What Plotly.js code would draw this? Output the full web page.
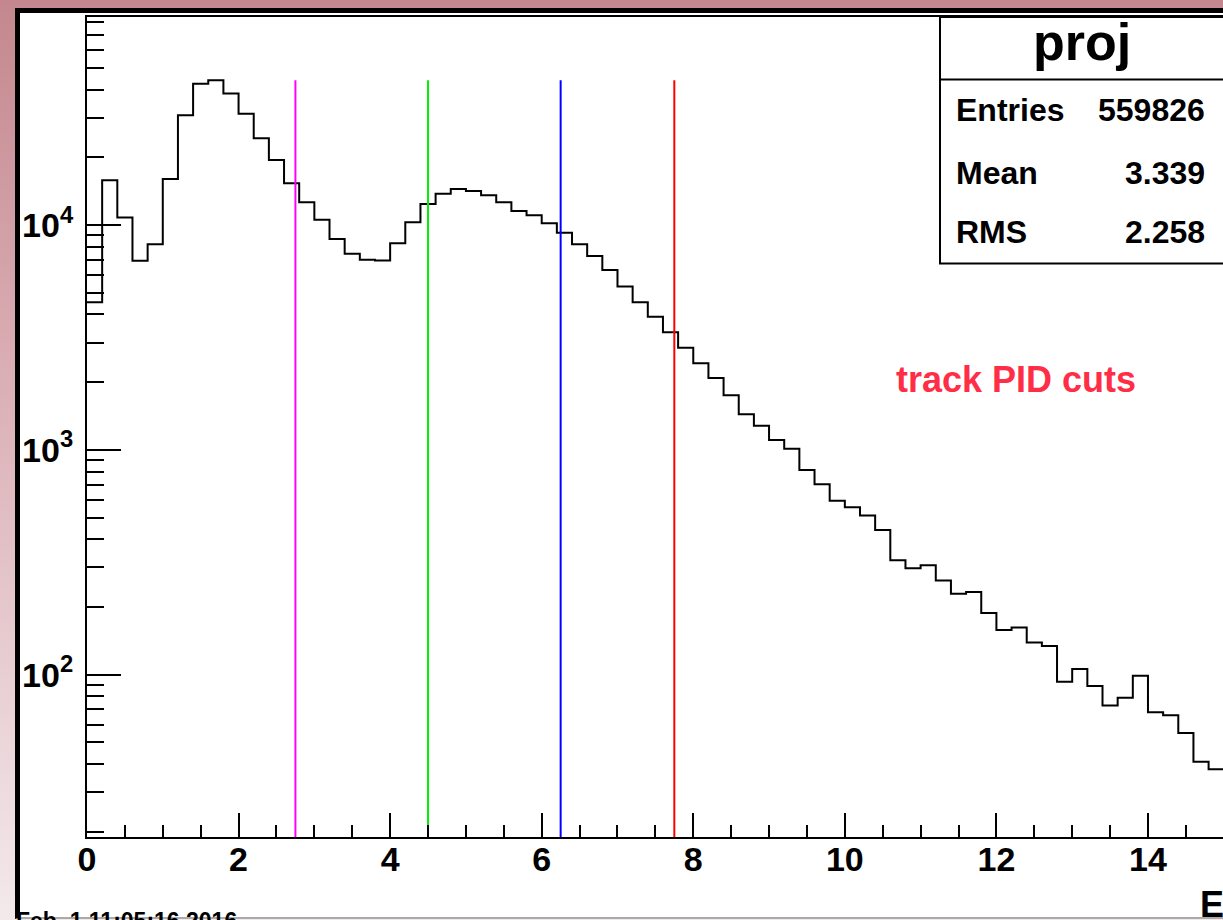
<!DOCTYPE html>
<html><head><meta charset="utf-8">
<script src="https://cdn.plot.ly/plotly-3.0.1.min.js"></script>
<style>
html,body{margin:0;padding:0;width:1223px;height:920px;overflow:hidden;background:linear-gradient(to bottom,#c4878f 0%,#dcb3b9 45%,#f3e9eb 100%);}
#pad{position:absolute;left:15px;top:8px;width:1220px;height:904px;background:#fff;border-left:5px solid #000;border-top:5px solid #000;border-bottom:2px solid #aaa;}
#chart{position:absolute;left:0;top:0;width:1223px;height:920px;}
</style></head>
<body>
<div id="pad"></div>
<div id="chart"></div>
<script>
// Histogram "proj": 75 bins of width 0.2 from 0 to 15
const binEdges = [0,0.2,0.4,0.6,0.8,1,1.2,1.4,1.6,1.8,2,2.2,2.4,2.6,2.8,3,3.2,3.4,3.6,3.8,
  4,4.2,4.4,4.6,4.8,5,5.2,5.4,5.6,5.8,6,6.2,6.4,6.6,6.8,7,7.2,7.4,7.6,7.8,
  8,8.2,8.4,8.6,8.8,9,9.2,9.4,9.6,9.8,10,10.2,10.4,10.6,10.8,11,11.2,11.4,11.6,11.8,
  12,12.2,12.4,12.6,12.8,13,13.2,13.4,13.6,13.8,14,14.2,14.4,14.6,14.8,15];
const counts = [4530,15800,10800,6930,8210,16000,30800,42500,44000,38400,
  31200,24300,19450,15330,12620,10560,8670,7450,7000,6950,
  8290,10280,12400,13780,14450,14160,13550,12620,11540,11040,
  10180,9240,8210,7280,6310,5320,4530,3910,3335,2846,
  2426,2086,1747,1439,1280,1106,1011,813,702,594,
  555,511,440,323,297,307,262,229,233,188,
  158,162,139,134,93,106,89,73,79,99,
  68,66,55,41,38];
const cutValues = [2.75, 4.5, 6.25, 7.75];
const cutColors = ['#ff00ff', '#00ee00', '#0000ff', '#ff0000'];
const xTickVals = [0,2,4,6,8,10,12,14];
const xTickText = ['0','2','4','6','8','10','12','14'];
const yTickVals = [100,1000,10000];
const yTickText = ['10<sup>2</sup>','10<sup>3</sup>','10<sup>4</sup>'];
const statsTitle = 'proj';
const statsNames = ['Entries','Mean','RMS'];
const statsValues = ['559826','3.339','2.258'];
const noteText = 'track PID cuts';
const dateText = 'Feb  1 11:05:16 2016';
const xTitle = 'E';

// minor tick positions
const xMinor = [];
for (let v = 0.5; v < 15; v += 0.5) { if (Math.abs(v/2 - Math.round(v/2)) > 1e-6) xMinor.push(+v.toFixed(2)); }
const yMinor = [];
for (let e = 1; e <= 4; e++) for (let m = 2; m <= 9; m++) yMinor.push(m * Math.pow(10, e));

const W = 1223, H = 920, L = 87, T = 17, B = 837, R = 1223;
const px = x => (x - L) / (R - L);
const py = y => (B - y) / (B - T);
const FONT = 'Liberation Sans, Arial, Helvetica, sans-serif';

const traces = [{
  type: 'scatter', mode: 'lines',
  x: binEdges, y: counts.concat([counts[counts.length - 1]]),
  line: {shape: 'hv', color: '#000', width: 2},
  hoverinfo: 'skip', showlegend: false
}];
const maxCount = Math.max(...counts);
cutValues.forEach((c, i) => traces.push({
  type: 'scatter', mode: 'lines', x: [c, c], y: [1, maxCount],
  line: {color: cutColors[i], width: 2}, hoverinfo: 'skip', showlegend: false
}));

const shapes = [
  {type: 'rect', xref: 'paper', yref: 'paper', x0: px(940), x1: px(1240), y0: py(263.5), y1: py(17),
   fillcolor: '#fff', line: {color: '#000', width: 2}, layer: 'above'},
  {type: 'line', xref: 'paper', yref: 'paper', x0: px(940), x1: px(1240), y0: py(79.5), y1: py(79.5),
   line: {color: '#000', width: 2}, layer: 'above'}
];

const ann = [];
ann.push({xref: 'paper', yref: 'paper', x: px(1082), y: py(42), text: statsTitle, showarrow: false,
  xanchor: 'center', yanchor: 'middle', font: {family: FONT, size: 52, color: '#000', weight: 'bold'}});
const rowMid = [110, 173.5, 231.5];
statsNames.forEach((n, i) => {
  ann.push({xref: 'paper', yref: 'paper', x: px(954), y: py(rowMid[i]), text: n, showarrow: false,
    xanchor: 'left', yanchor: 'middle', font: {family: FONT, size: 32, color: '#000', weight: 'bold'}});
  ann.push({xref: 'paper', yref: 'paper', x: px(1207), y: py(rowMid[i]), text: statsValues[i], showarrow: false,
    xanchor: 'right', yanchor: 'middle', font: {family: FONT, size: 32, color: '#000', weight: 'bold'}});
});
ann.push({xref: 'paper', yref: 'paper', x: px(894), y: py(380), text: noteText, showarrow: false,
  xanchor: 'left', yanchor: 'middle', font: {family: FONT, size: 36, color: '#ff2d46', weight: 'bold'}});
ann.push({xref: 'paper', yref: 'paper', x: px(1198), y: py(904), text: xTitle, showarrow: false,
  xanchor: 'left', yanchor: 'middle', font: {family: FONT, size: 36, color: '#000', weight: 'bold'}});
ann.push({xref: 'paper', yref: 'paper', x: px(14), y: py(921), text: dateText, showarrow: false,
  xanchor: 'left', yanchor: 'middle', font: {family: FONT, size: 23, color: '#000', weight: 'bold'}});

const layout = {
  width: W, height: H,
  margin: {l: L, r: W - R, t: T, b: H - B, pad: 0},
  paper_bgcolor: 'rgba(0,0,0,0)', plot_bgcolor: 'rgba(0,0,0,0)',
  showlegend: false,
  xaxis: {
    range: [0, 14.99], tickmode: 'array', tickvals: xTickVals, ticktext: xTickText,
    ticks: 'inside', ticklen: 24, tickwidth: 2, tickcolor: '#000',
    showline: true, linewidth: 2, linecolor: '#000', mirror: true,
    showgrid: false, zeroline: false, ticklabelstandoff: -9,
    tickfont: {family: FONT, size: 34, color: '#000', weight: 'bold'},
    minor: {tickmode: 'array', tickvals: xMinor, ticks: 'inside', ticklen: 12, tickwidth: 2, tickcolor: '#000', showgrid: false}
  },
  yaxis: {
    type: 'log', range: [1.278, 4.925], tickmode: 'array', tickvals: yTickVals, ticktext: yTickText,
    ticks: 'inside', ticklen: 34, tickwidth: 2, tickcolor: '#000',
    showline: true, linewidth: 2, linecolor: '#000', mirror: true,
    showgrid: false, zeroline: false, ticklabelstandoff: 5,
    tickfont: {family: FONT, size: 34, color: '#000', weight: 'bold'},
    minor: {tickmode: 'array', tickvals: yMinor, ticks: 'inside', ticklen: 17, tickwidth: 2, tickcolor: '#000', showgrid: false}
  },
  shapes: shapes, annotations: ann
};
Plotly.newPlot('chart', traces, layout, {displayModeBar: false, staticPlot: true});
</script>
</body></html>
